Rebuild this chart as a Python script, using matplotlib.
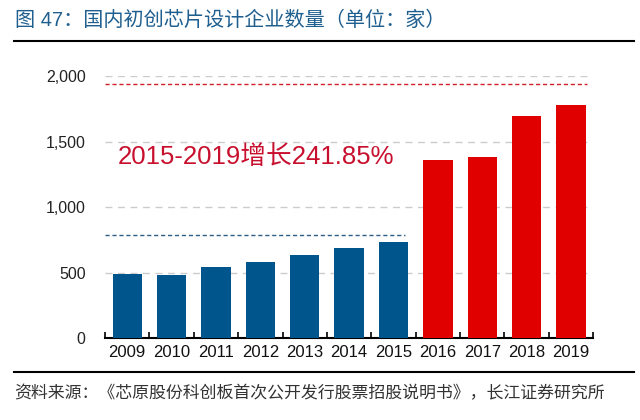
import matplotlib
matplotlib.use("Agg")
import matplotlib.pyplot as plt
import numpy as np

# data
years = ["2009", "2010", "2011", "2012", "2013", "2014", "2015", "2016", "2017", "2018", "2019"]
counts = [490, 480, 545, 580, 635, 690, 736, 1362, 1380, 1698, 1780]
bar_colors = ["#00558c"] * 7 + ["#e00000"] * 4
yticks = [0, 500, 1000, 1500, 2000]
ytick_labels = ["0", "500", "1,000", "1,500", "2,000"]
red_level = 1940
blue_level = 790

title = "图 47：国内初创芯片设计企业数量（单位：家）"
note = "2015-2019增长241.85%"
source = "资料来源：《芯原股份科创板首次公开发行股票招股说明书》，长江证券研究所"

fonts = ["Liberation Sans", "Noto Sans CJK SC", "DejaVu Sans"]
plt.rcParams["font.family"] = fonts

fig = plt.figure(figsize=(6.4, 4.2), dpi=100)
ax = fig.add_axes([0.164, 0.195, 0.763, 0.624])

x = np.arange(len(years))
ax.bar(x, counts, width=0.66, color=bar_colors, zorder=3)

ax.set_xlim(-0.5, len(years) - 0.5)
ax.set_ylim(0, 2000)
ax.set_yticks(yticks)
ax.set_yticklabels(ytick_labels, fontsize=11.5, color="#222222")
ax.set_xticks(x)
ax.set_xticklabels(years, fontsize=12, color="#111111")
ax.tick_params(axis="y", length=0, pad=14)
ax.tick_params(axis="x", length=0, pad=5)
# tick marks between categories
ax.set_xticks(np.arange(-0.5, len(years)), minor=True)
ax.tick_params(axis="x", which="minor", direction="in", length=4, width=1.2, color="black")

for y in yticks[1:]:
    ax.axhline(y, color="#cccccc", linestyle=(0, (5, 4)), linewidth=1, zorder=1)

ax.hlines(red_level, -0.5, 10.35, colors="#d0202a", linestyles=(0, (3, 2)), linewidth=1, zorder=2)
ax.hlines(blue_level, -0.5, 6.26, colors="#2e5e86", linestyles=(0, (3, 2)), linewidth=1, zorder=2)

for s in ["top", "right", "left"]:
    ax.spines[s].set_visible(False)
ax.spines["bottom"].set_linewidth(1.5)
ax.spines["bottom"].set_color("black")

ax.text(-0.22, 1380, note, fontsize=18.5, color="#c8102e", va="center", ha="left")

fig.text(0.024, 0.952, title, fontsize=14.5, color="#1f5f8f", va="center", ha="left")
fig.add_artist(plt.Line2D([0.022, 0.99], [0.902, 0.902], color="black", linewidth=1.5))
fig.add_artist(plt.Line2D([0.022, 0.99], [0.114, 0.114], color="black", linewidth=1.5))
fig.text(0.022, 0.064, source, fontsize=12.2, color="#333333", va="center", ha="left")

fig.savefig("out.png", dpi=100)
